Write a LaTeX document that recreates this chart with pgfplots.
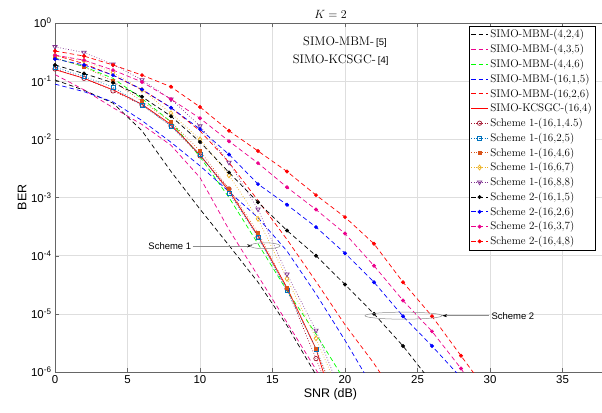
\documentclass[border=0pt]{standalone}
\usepackage{fontspec}
\usepackage{pgfplots}
\pgfplotsset{compat=1.18}
\usetikzlibrary{arrows.meta}
\newfontfamily\helv{Liberation Sans}

\definecolor{mred}{rgb}{0.64,0.08,0.18}
\definecolor{mblue}{rgb}{0,0.447,0.741}
\definecolor{morange}{rgb}{0.85,0.325,0.098}
\definecolor{myellow}{rgb}{0.929,0.694,0.125}
\definecolor{mpurple}{rgb}{0.494,0.184,0.556}
\definecolor{gridc}{rgb}{0.87,0.87,0.87}

\begin{document}
\begin{tikzpicture}
\useasboundingbox (-55bp,-41bp) rectangle (547bp,372bp);
\begin{axis}[
    at={(0,0)}, anchor=south west,
    scale only axis,
    width=551bp, height=349bp,
    ymode=log, log basis y=10,
    xmin=0, xmax=38,
    ymin=1e-6, ymax=1,
    xtick={0,5,...,35},
    ytick={1e-6,1e-5,1e-4,1e-3,1e-2,1e-1,1},
    yticklabels={10\textsuperscript{-6},10\textsuperscript{-5},10\textsuperscript{-4},10\textsuperscript{-3},10\textsuperscript{-2},10\textsuperscript{-1},10\textsuperscript{0}},
    /pgf/number format/assume math mode=true,
    ticklabel style={font=\helv\fontsize{11.5}{13}\selectfont},
    tick align=inside,
    major tick length=4bp, minor tick length=2bp,
    tick style={color=black!60},
    axis line style={color=black!60},
    xmajorgrids, ymajorgrids, yminorgrids,
    major grid style={color=gridc, line width=0.5pt},
    minor grid style={color=gridc, dotted, line width=0.5pt},
    title={$K=2$},
    title style={font=\fontsize{13}{15}\selectfont, yshift=-5bp},
    xlabel={SNR (dB)},
    ylabel={BER},
    xlabel style={font=\helv\fontsize{12.5}{14}\selectfont, yshift=2bp},
    ylabel style={font=\helv\fontsize{12.5}{14}\selectfont, yshift=-2bp},
    legend cell align=left,
    legend style={at={(0.981,0.9914)}, anchor=north east,
        font=\fontsize{11.1}{13}\selectfont,
        row sep=1pt, inner sep=1.5pt},
    every axis plot/.append style={line width=0.7pt},
    clip mode=individual,
]

% SIMO-MBM curves
\addplot[black, dash pattern=on 4.5pt off 3pt] coordinates {
(0,0.105)(2,0.07)(4,0.042)(6,0.014)(8,2.8e-3)(10,6.3e-4)(12,1.5e-4)(14,3.5e-5)(16,6.3e-6)(18,8.9e-7)};
\addlegendentry{SIMO-MBM-(4,2,4)}

\addplot[magenta, dash pattern=on 4.5pt off 3pt] coordinates {
(0,0.13)(2,0.071)(4,0.035)(6,0.018)(8,7.9e-3)(10,2.2e-3)(12,2.8e-4)(14,4.5e-5)(16,7.1e-6)(18,1.1e-6)(19,4e-7)};
\addlegendentry{SIMO-MBM-(4,3,5)}

\addplot[green, dash pattern=on 4.5pt off 3pt] coordinates {
(0,0.25)(2,0.178)(4,0.112)(6,0.05)(8,0.02)(10,5e-3)(12,1e-3)(14,1.6e-4)(16,2.5e-5)(18,4.5e-6)(20,7e-7)};
\addlegendentry{SIMO-MBM-(4,4,6)}

\addplot[blue, dash pattern=on 4.5pt off 3pt] coordinates {
(0,0.089)(2,0.066)(4,0.044)(6,0.021)(8,8.9e-3)(10,3.5e-3)(12,1.26e-3)(14,4.5e-4)(16,1.2e-4)(18,2.2e-5)(20,3.5e-6)(22,5e-7)};
\addlegendentry{SIMO-MBM-(16,1,5)}

\addplot[red, dash pattern=on 4.5pt off 3pt] coordinates {
(0,0.28)(2,0.2)(4,0.126)(6,0.071)(8,0.035)(10,0.014)(12,4e-3)(14,8.9e-4)(16,1.9e-4)(18,3.6e-5)(20,6.5e-6)(22,1.4e-6)(24,2.5e-7)};
\addlegendentry{SIMO-MBM-(16,2,6)}

\addplot[red, solid] coordinates {
(0,0.158)(2,0.112)(4,0.071)(6,0.04)(8,0.018)(10,5.4e-3)(12,1.3e-3)(14,2.2e-4)(16,2.8e-5)(18,2.5e-6)(19,4e-7)};
\addlegendentry{SIMO-KCSGC-(16,4)}

% Scheme 1
\addplot[mred, dotted, mark=o, mark size=2.2pt, mark options={solid}] coordinates {
(0,0.162)(2,0.112)(4,0.068)(6,0.039)(8,0.017)(10,5.2e-3)(12,1.4e-3)(14,2.1e-4)(16,2.7e-5)(18,1.7e-6)(19,4e-7)};
\addlegendentry{Scheme 1-(16,1,4.5)}

\addplot[mblue, dotted, mark=square, mark size=2pt, mark options={solid}] coordinates {
(0,0.174)(2,0.12)(4,0.079)(6,0.039)(8,0.017)(10,5.5e-3)(12,1.2e-3)(14,2.1e-4)(16,2.5e-5)(18,2.5e-6)(19,6e-7)};
\addlegendentry{Scheme 1-(16,2,5)}

\addplot[morange, dotted, mark=square*, mark size=1.5pt, mark options={solid}] coordinates {
(0,0.25)(2,0.178)(4,0.1)(6,0.045)(8,0.02)(10,6.3e-3)(12,1.4e-3)(14,2.5e-4)(16,2.8e-5)(18,2.5e-6)(19,6e-7)};
\addlegendentry{Scheme 1-(16,4,6)}

\addplot[myellow, dotted, mark=diamond, mark size=2.5pt, mark options={solid}] coordinates {
(0,0.28)(2,0.224)(4,0.141)(6,0.071)(8,0.028)(10,0.01)(12,2.4e-3)(14,4.3e-4)(16,4e-5)(18,3.8e-6)(19.5,5e-7)};
\addlegendentry{Scheme 1-(16,6,7)}

\addplot[mpurple, dotted, mark=triangle, mark size=2.5pt, mark options={solid, rotate=180}] coordinates {
(0,0.39)(2,0.31)(4,0.195)(6,0.105)(8,0.049)(10,0.017)(12,4e-3)(14,6.3e-4)(16,4.8e-5)(18,5.2e-6)(19.5,6e-7)};
\addlegendentry{Scheme 1-(16,8,8)}

% Scheme 2
\addplot[black, dash pattern=on 4.5pt off 3pt, mark=*, mark size=1.6pt, mark options={solid}] coordinates {
(0,0.19)(2,0.135)(4,0.094)(6,0.054)(8,0.025)(10,9e-3)(12,2.7e-3)(14,8.3e-4)(16,2.7e-4)(18,1e-4)(20,3.2e-5)(22,1e-5)(24,2.8e-6)(26,6.5e-7)};
\addlegendentry{Scheme 2-(16,1,5)}

\addplot[blue, dash pattern=on 4.5pt off 3pt, mark=*, mark size=1.6pt, mark options={solid}] coordinates {
(0,0.24)(2,0.19)(4,0.127)(6,0.072)(8,0.035)(10,0.015)(12,5.5e-3)(14,1.7e-3)(16,7.5e-4)(18,3.1e-4)(20,1.1e-4)(22,3.5e-5)(24,9.1e-6)(26,2.8e-6)(28,8e-7)};
\addlegendentry{Scheme 2-(16,2,6)}

\addplot[magenta, dash pattern=on 4.5pt off 3pt, mark=*, mark size=1.6pt, mark options={solid}] coordinates {
(0,0.28)(2,0.23)(4,0.155)(6,0.097)(8,0.049)(10,0.023)(12,9.3e-3)(14,3.9e-3)(16,1.5e-3)(18,6.2e-4)(20,2.4e-4)(22,6.7e-5)(24,1.7e-5)(26,5e-6)(28,1.15e-6)(30,2e-7)};
\addlegendentry{Scheme 2-(16,3,7)}

\addplot[red, dash pattern=on 4.5pt off 3pt, mark=*, mark size=1.6pt, mark options={solid}] coordinates {
(0,0.33)(2,0.27)(4,0.19)(6,0.127)(8,0.08)(10,0.036)(12,0.014)(14,6.3e-3)(16,2.8e-3)(18,1.1e-3)(20,4.6e-4)(22,1.6e-4)(24,3.5e-5)(26,9.1e-6)(28,1.9e-6)(30,4e-7)};
\addlegendentry{Scheme 2-(16,4,8)}

% annotations
\node[anchor=center, inner sep=0pt] at (axis cs:20,0.47) {\fontsize{12.5}{14}\selectfont SIMO-MBM-\,{\helv\fontsize{9.5}{11}\selectfont [5]}};
\node[anchor=center, inner sep=0pt] at (axis cs:19.7,0.23) {\fontsize{12.5}{14}\selectfont SIMO-KCSGC-\,{\helv\fontsize{9.5}{11}\selectfont [4]}};

\node[anchor=east, inner sep=0pt, font=\helv\fontsize{9.5}{11}\selectfont] at (axis cs:9.4,1.48e-4) {Scheme 1};
\draw[black!45, line width=0.5pt, -{Stealth[black, length=5bp, width=3bp]}] (axis cs:9.5,1.48e-4) -- (axis cs:13.6,1.48e-4);
\draw[black!45, line width=0.5pt] (axis cs:14.48,1.48e-4) ellipse [x radius=15bp, y radius=3bp];

\node[anchor=west, inner sep=0pt, font=\helv\fontsize{9.5}{11}\selectfont] at (axis cs:30.1,9.3e-6) {Scheme 2};
\draw[black!45, line width=0.5pt, -{Stealth[black, length=5bp, width=3bp]}] (axis cs:29.9,9.3e-6) -- (axis cs:26.7,9.3e-6);
\draw[black!45, line width=0.5pt] (axis cs:24.03,9.3e-6) ellipse [x radius=38.5bp, y radius=3.5bp];

\end{axis}
\end{tikzpicture}
\end{document}
